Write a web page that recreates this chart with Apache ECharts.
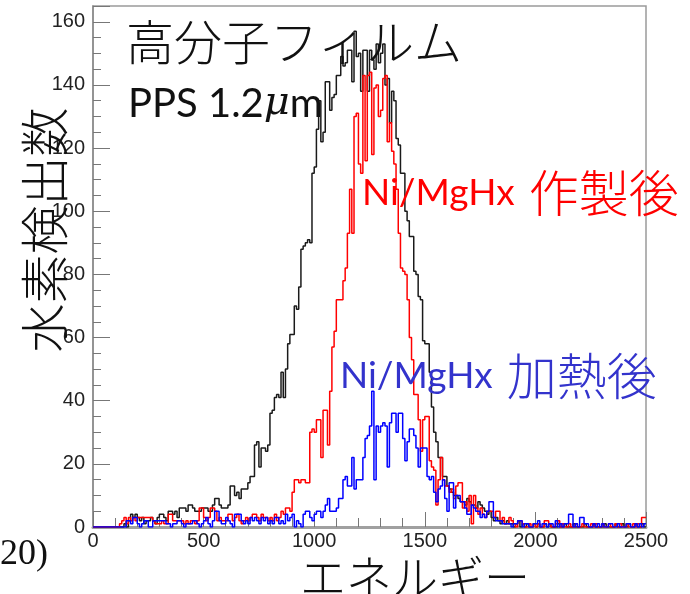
<!DOCTYPE html>
<html>
<head>
<meta charset="utf-8">
<script src="https://cdn.jsdelivr.net/npm/echarts@6/dist/echarts.min.js"></script>
<style>
html,body{margin:0;padding:0;background:#fff;}
#chart{width:690px;height:594px;}
</style>
</head>
<body>
<div id="chart"></div>
<script>
// Histogram bins: width 10, starting at energy 0 (250 bins to 2500)
const binWidth = 10;
const xTicks = [0, 500, 1000, 1500, 2000, 2500];
const yTicks = [0, 20, 40, 60, 80, 100, 120, 140, 160];

// 高分子フィルム PPS 1.2μm (black)
const blackCounts = [
  0,0,0,0,0,0,0,0,0,0,            // 0
  0,0,0,0,1,0,2,4,3,4,            // 100
  3,2,3,1,2,2,3,2,1,3,            // 200
  4,4,3,2,5,5,4,5,3,6,            // 300
  6,6,5,7,7,6,5,5,5,6,            // 400
  6,6,5,5,7,9,9,7,6,6,            // 500
  6,7,13,13,10,11,9,12,12,12,     // 600
  14,16,16,26,27,19,25,25,24,26,  // 700
  36,37,41,42,41,49,41,50,58,61,  // 800
  61,70,69,76,88,89,90,91,90,112, // 900
  114,126,135,122,125,141,141,132,136,137, // 1000
  143,143,149,146,147,151,151,141,157,149, // 1100
  150,138,151,151,138,151,148,145,153,147, // 1200
  150,153,140,142,128,138,135,123,121,112, // 1300
  112,100,97,92,92,81,80,73,72,59,         // 1400
  58,58,49,38,30,27,22,22,16,16,  // 1500
  13,12,11,10,10,9,8,8,7,9,       // 1600
  8,7,7,6,8,7,6,5,4,5,            // 1700
  3,2,3,2,1,2,1,2,1,1,            // 1800
  0,1,2,0,1,0,1,0,0,1,            // 1900
  0,1,0,0,1,0,1,0,0,0,            // 2000
  1,0,0,1,0,0,0,1,0,0,            // 2100
  0,0,1,0,0,0,1,0,0,0,            // 2200
  0,1,0,0,0,0,1,0,0,1,            // 2300
  0,0,1,0,0,1,0,0,1,0             // 2400
];

// Ni/MgHx 作製後 (red)
const redCounts = [
  0,0,0,0,0,0,0,0,0,0,            // 0
  0,0,1,2,3,1,3,2,3,2,            // 100
  3,3,3,3,3,3,3,2,1,1,            // 200
  1,2,1,1,4,4,2,2,2,2,            // 300
  2,1,2,1,2,2,1,2,6,6,            // 400
  3,2,3,6,6,5,2,3,2,2,            // 500
  2,4,4,2,3,4,2,1,2,3,            // 600
  2,3,4,4,3,2,4,3,3,2,            // 700
  3,2,4,2,3,5,4,6,6,5,            // 800
  11,15,15,14,15,15,14,14,30,31,  // 900
  30,34,34,22,37,37,26,43,57,62,  // 1000
  72,72,72,78,82,93,107,93,130,131,        // 1100
  115,112,143,116,143,144,118,139,140,130, // 1200
  132,142,143,122,128,119,115,107,93,82,   // 1300
  81,80,72,60,53,42,42,34,24,34,  // 1400
  35,35,21,19,18,7,15,22,15,13,   // 1500
  13,11,12,9,13,14,14,6,8,5,      // 1600
  10,1,10,6,4,6,4,3,5,5,          // 1700
  5,3,5,5,2,3,1,1,3,2,            // 1800
  1,0,2,2,1,0,0,1,0,1,            // 1900
  0,1,0,0,2,2,1,0,0,1,            // 2000
  2,0,1,0,0,1,0,0,1,0,            // 2100
  0,1,0,0,0,1,0,1,0,0,            // 2200
  1,0,0,1,0,0,1,0,1,0,            // 2300
  0,1,0,0,1,0,1,0,3,3             // 2400
];

// Ni/MgHx 加熱後 (blue)
const blueCounts = [
  0,0,0,0,0,0,0,0,0,0,            // 0
  0,0,0,0,0,2,2,1,3,3,            // 100
  1,0,1,2,2,0,0,2,2,2,            // 200
  2,2,2,1,1,0,1,1,2,2,            // 300
  1,0,1,1,1,2,2,1,0,1,            // 400
  2,3,1,0,2,5,5,2,1,1,            // 500
  3,2,1,0,4,4,4,2,1,2,            // 600
  1,3,2,3,2,1,3,2,3,1,            // 700
  2,1,3,3,1,2,1,4,2,3,            // 800
  4,0,2,1,0,4,5,5,3,2,            // 900
  4,5,5,3,5,7,9,5,5,5,            // 1000
  6,9,9,15,16,13,13,22,12,15,     // 1100
  15,15,22,28,29,32,43,15,32,30,  // 1200
  32,33,32,19,33,36,36,30,36,36,  // 1300
  28,21,27,31,31,29,25,19,25,25,  // 1400
  25,16,15,16,11,8,12,13,15,9,    // 1500
  5,14,14,6,10,10,8,8,6,4,        // 1600
  4,7,6,5,5,3,4,3,5,8,            // 1700
  8,3,2,2,2,1,1,1,1,0,            // 1800
  1,1,2,2,0,1,1,0,0,1,            // 1900
  1,2,0,1,1,0,1,1,0,2,            // 2000
  0,1,0,1,1,4,4,0,1,0,            // 2100
  3,3,1,1,0,0,1,0,1,0,            // 2200
  1,0,0,1,1,0,0,1,0,0,            // 2300
  0,1,1,0,0,1,0,1,0,1             // 2400
];

function toSteps(counts) {
  const pts = counts.map((c, i) => [i * binWidth, c]);
  pts.push([counts.length * binWidth, counts[counts.length - 1]]);
  return pts;
}

const chart = echarts.init(document.getElementById('chart'), null, {renderer: 'canvas'});
const labelFont = '"Liberation Sans", Arial, sans-serif';
const cjkFont = '"Noto Sans CJK JP", sans-serif';
const latinFont = 'Lato, "Open Sans", sans-serif';

chart.setOption({
  animation: false,
  backgroundColor: '#ffffff',
  grid: {
    left: 93, right: 44, top: 6, bottom: 67,
    show: true, borderColor: '#9a9a9a', borderWidth: 1.5, backgroundColor: 'transparent'
  },
  xAxis: {
    type: 'value', min: xTicks[0], max: xTicks[xTicks.length - 1], interval: 500,
    axisLine: {show: true, onZero: false, lineStyle: {color: '#a0a0a0', width: 3}},
    axisTick: {show: true, inside: true, length: 15, lineStyle: {color: '#777', width: 1}},
    minorTick: {show: true, splitNumber: 5, length: 9, lineStyle: {color: '#777', width: 1}},
    splitLine: {show: false},
    axisLabel: {fontSize: 20, color: '#222', fontFamily: labelFont, margin: 4,
      formatter: v => xTicks.includes(v) ? String(v) : ''}
  },
  yAxis: {
    type: 'value', min: 0, max: 165, interval: 20,
    axisLine: {show: true, onZero: false, lineStyle: {color: '#8a8a8a', width: 1.5}},
    axisTick: {show: true, inside: true, length: 17, lineStyle: {color: '#777', width: 1}},
    minorTick: {show: true, splitNumber: 4, length: 8, lineStyle: {color: '#777', width: 1}},
    splitLine: {show: false},
    axisLabel: {fontSize: 20, color: '#222', fontFamily: labelFont, margin: 8,
      formatter: v => yTicks.includes(v) ? String(v) : ''}
  },
  series: [
    {name: 'PPS', type: 'line', step: 'end', symbol: 'none', data: toSteps(blackCounts),
     lineStyle: {color: '#1a1a1a', width: 1.5}, z: 2},
    {name: 'red', type: 'line', step: 'end', symbol: 'none', data: toSteps(redCounts),
     lineStyle: {color: '#ff0000', width: 1.5}, z: 3},
    {name: 'blue', type: 'line', step: 'end', symbol: 'none', data: toSteps(blueCounts),
     lineStyle: {color: '#0000ff', width: 1.5}, z: 4}
  ],
  graphic: [
    {type: 'text', left: 126, top: 18, z: 10, style: {text: '高分子フィルム', fontSize: 48, fontFamily: cjkFont, fill: '#111', fontWeight: 300}},
    {type: 'text', left: 128, top: 84, z: 10, style: {
      text: '{a|PPS 1.2}{b|μ}{a|m}',
      rich: {
        a: {fontSize: 40, fontFamily: latinFont, fill: '#111'},
        b: {fontSize: 40, fontFamily: '"DejaVu Serif", serif', fontStyle: 'italic', fill: '#111'}
      }}},
    {type: 'text', left: 362, top: 168, z: 10, style: {
      text: '{a|Ni/MgHx}{s| }{b|作製後}',
      rich: {
        a: {fontSize: 37, fontFamily: latinFont, fill: '#ff0000'},
        s: {fontSize: 37, fontFamily: latinFont, fill: '#ff0000', width: 14},
        b: {fontSize: 50, fontFamily: cjkFont, fill: '#ff0000', fontWeight: 300}
      }}},
    {type: 'text', left: 340, top: 351, z: 10, style: {
      text: '{a|Ni/MgHx}{s| }{b|加熱後}',
      rich: {
        a: {fontSize: 37, fontFamily: latinFont, fill: '#3333cc'},
        s: {fontSize: 37, fontFamily: latinFont, fill: '#3333cc', width: 14},
        b: {fontSize: 50, fontFamily: cjkFont, fill: '#3333cc', fontWeight: 300}
      }}},
    {type: 'text', x: 44, y: 230, rotation: Math.PI / 2, z: 10, style: {
      text: '水素検出数', fontSize: 49, fontFamily: cjkFont, fill: '#111', fontWeight: 300,
      align: 'center', verticalAlign: 'middle'}},
    {type: 'text', x: 415, y: 577, z: 10, style: {
      text: 'エネルギー', fontSize: 46, fontFamily: cjkFont, fill: '#111', fontWeight: 300,
      align: 'center', verticalAlign: 'middle'}},
    {type: 'text', x: 0, y: 555, z: 10, style: {
      text: '20)', fontSize: 36, fontFamily: '"Liberation Serif", serif', fill: '#111',
      align: 'left', verticalAlign: 'middle'}}
  ]
});
</script>
</body>
</html>
